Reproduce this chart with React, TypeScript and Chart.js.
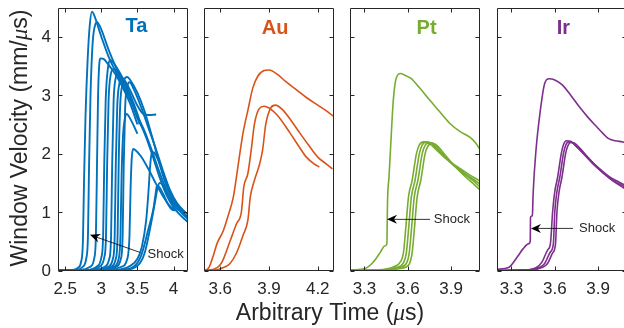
import React, { useEffect, useRef } from "react";
import { Chart, registerables } from "chart.js";
Chart.register(...registerables);

// ---------- data ----------
const yTicks = [0, 1, 2, 3, 4];
const taTicks = [2.5, 3, 3.5, 4];
const auTicks = [3.6, 3.9, 4.2];
const ptTicks = [3.3, 3.6, 3.9];
const irTicks = [3.3, 3.6, 3.9];

const ta01 = [[2.4,0],[2.6,0.01],[2.68,0.05],[2.72,0.15],[2.745,0.5],[2.76,1.5],[2.78,2.6],[2.81,3.6],[2.84,4.2],[2.87,4.43],[2.9,4.37],[3.0,4.0],[3.1,3.66],[3.2,3.4],[3.3,3.16],[3.4,2.92],[3.5,2.64],[3.6,2.38],[3.7,2.05],[3.8,1.7],[3.9,1.38],[4.0,1.16],[4.1,1.04],[4.16,1.0]];
const ta02 = [[2.4,0],[2.65,0.01],[2.74,0.06],[2.79,0.2],[2.815,0.6],[2.83,1.8],[2.85,3.0],[2.88,3.9],[2.92,4.22],[2.94,4.25],[2.98,4.18],[3.1,3.78],[3.2,3.48],[3.3,3.2],[3.4,2.94],[3.5,2.62],[3.6,2.34],[3.7,2.0],[3.8,1.62],[3.9,1.3],[4.0,1.08],[4.1,0.94],[4.2,0.83]];
const ta03 = [[2.4,0],[2.7,0.01],[2.84,0.06],[2.9,0.2],[2.925,0.6],[2.94,1.8],[2.955,3.0],[2.97,3.5],[2.99,3.63],[3.03,3.62],[3.1,3.52],[3.2,3.35],[3.3,3.12],[3.4,2.85],[3.5,2.5]];
const ta04 = [[2.4,0],[2.8,0.01],[2.94,0.07],[3.0,0.22],[3.025,0.6],[3.04,1.8],[3.06,2.9],[3.09,3.45],[3.12,3.6],[3.15,3.58],[3.2,3.5],[3.3,3.28],[3.4,2.98],[3.5,2.6]];
const ta05 = [[2.4,0],[2.85,0.01],[2.98,0.07],[3.04,0.22],[3.065,0.6],[3.08,1.8],[3.1,2.9],[3.13,3.35],[3.17,3.45],[3.22,3.4],[3.3,3.22],[3.4,2.96],[3.5,2.62],[3.53,2.5]];
const ta06 = [[2.4,0],[2.9,0.01],[3.04,0.06],[3.11,0.2],[3.135,0.6],[3.15,1.8],[3.17,2.9],[3.2,3.3],[3.23,3.38],[3.28,3.32],[3.35,3.15],[3.45,2.85],[3.55,2.5]];
const ta07 = [[2.4,0],[2.95,0.01],[3.09,0.06],[3.16,0.2],[3.185,0.6],[3.2,1.8],[3.22,2.8],[3.25,3.2],[3.28,3.3],[3.32,3.26],[3.4,3.08],[3.5,2.82],[3.58,2.68],[3.65,2.66],[3.76,2.67]];
const ta08 = [[2.4,0],[3.0,0.01],[3.13,0.06],[3.2,0.2],[3.225,0.6],[3.24,1.8],[3.26,2.8],[3.3,3.2],[3.36,3.31],[3.4,3.26],[3.5,3.04],[3.6,2.72],[3.7,2.3],[3.8,1.85],[3.9,1.45],[4.0,1.2],[4.1,1.0],[4.2,0.88]];
const ta09 = [[2.4,0],[3.05,0.01],[3.17,0.06],[3.24,0.2],[3.265,0.6],[3.28,1.6],[3.3,2.3],[3.33,2.62],[3.35,2.68],[3.38,2.64],[3.44,2.5],[3.5,2.34]];
const ta10 = [[2.4,0],[3.07,0.01],[3.2,0.06],[3.27,0.2],[3.295,0.6],[3.31,1.8],[3.33,2.8],[3.36,3.15],[3.39,3.22],[3.45,3.1],[3.55,2.8],[3.65,2.45],[3.75,2.1],[3.85,1.72],[3.95,1.38],[4.05,1.15],[4.2,0.95]];
const ta11 = [[2.4,0],[3.1,0.01],[3.27,0.06],[3.36,0.2],[3.39,0.6],[3.405,1.4],[3.42,1.9],[3.44,2.08],[3.47,2.06],[3.55,1.95],[3.65,1.74],[3.75,1.5],[3.85,1.28],[3.95,1.1],[4.02,1.03]];
const ta12 = [[2.4,0],[3.2,0.01],[3.4,0.08],[3.5,0.2],[3.56,0.4],[3.62,0.85],[3.65,1.3],[3.68,1.85],[3.7,2.03],[3.73,2.02],[3.8,1.85],[3.9,1.5],[4.0,1.22],[4.1,1.04],[4.2,0.9]];
const ta13 = [[2.4,0],[3.25,0.01],[3.45,0.07],[3.55,0.25],[3.65,0.7],[3.72,1.05],[3.75,1.3],[3.77,1.45],[3.8,1.43],[3.86,1.3],[3.92,1.14],[3.98,1.04],[4.02,1.03]];
const ta14 = [[2.4,0],[3.3,0.01],[3.5,0.08],[3.6,0.3],[3.68,0.75],[3.74,1.15],[3.78,1.42],[3.81,1.5],[3.85,1.46],[3.92,1.3],[4.0,1.12],[4.06,1.04],[4.1,1.02]];

const au1 = [[3.5,0],[3.53,0.05],[3.56,0.28],[3.58,0.46],[3.62,0.69],[3.65,0.95],[3.68,1.25],[3.71,1.8],[3.74,2.35],[3.77,2.74],[3.8,3.12],[3.83,3.32],[3.87,3.42],[3.9,3.43],[3.95,3.36],[4.0,3.24],[4.07,3.09],[4.13,2.96],[4.2,2.83],[4.26,2.72],[4.3,2.63]];
const au2 = [[3.5,0],[3.56,0.02],[3.6,0.1],[3.62,0.2],[3.66,0.5],[3.7,0.8],[3.73,1.0],[3.745,1.43],[3.77,1.66],[3.79,2.05],[3.81,2.5],[3.84,2.77],[3.87,2.81],[3.9,2.78],[3.95,2.66],[4.03,2.35],[4.08,2.14],[4.13,1.94],[4.18,1.82],[4.21,1.77]];
const au3 = [[3.5,0],[3.58,0.01],[3.62,0.05],[3.66,0.12],[3.7,0.3],[3.74,0.6],[3.77,0.86],[3.785,1.26],[3.81,1.54],[3.84,1.8],[3.86,2.05],[3.88,2.5],[3.91,2.78],[3.94,2.83],[3.98,2.76],[4.04,2.55],[4.09,2.35],[4.15,2.12],[4.2,1.94],[4.25,1.83],[4.29,1.74]];

const pt1 = [[3.2,0.01],[3.31,0.04],[3.36,0.14],[3.41,0.31],[3.44,0.42],[3.455,0.45],[3.46,1.2],[3.47,1.6],[3.48,2.06],[3.5,2.92],[3.52,3.29],[3.55,3.37],[3.58,3.34],[3.62,3.29],[3.68,3.13],[3.75,2.92],[3.82,2.72],[3.89,2.52],[3.96,2.38],[4.03,2.28],[4.07,2.18],[4.1,2.07]];
const pt2 = [[3.2,0],[3.4,0.01],[3.5,0.06],[3.55,0.15],[3.57,0.3],[3.585,0.69],[3.605,1.26],[3.63,1.54],[3.66,2.0],[3.68,2.15],[3.71,2.2],[3.75,2.17],[3.8,2.06],[3.87,1.9],[3.94,1.78],[4.02,1.65],[4.1,1.53]];
const pt3 = [[3.2,0],[3.42,0.01],[3.52,0.05],[3.57,0.13],[3.59,0.3],[3.605,0.69],[3.625,1.26],[3.65,1.54],[3.68,2.0],[3.7,2.15],[3.73,2.2],[3.77,2.16],[3.82,2.03],[3.89,1.86],[3.96,1.72],[4.03,1.6],[4.1,1.48]];
const pt4 = [[3.2,0],[3.44,0.01],[3.54,0.05],[3.59,0.12],[3.61,0.3],[3.625,0.69],[3.645,1.26],[3.67,1.54],[3.7,2.0],[3.72,2.14],[3.75,2.19],[3.79,2.14],[3.84,2.0],[3.91,1.82],[3.98,1.67],[4.05,1.54],[4.1,1.43]];
const pt5 = [[3.2,0],[3.46,0.01],[3.56,0.04],[3.61,0.11],[3.63,0.3],[3.645,0.69],[3.665,1.26],[3.69,1.54],[3.72,2.0],[3.74,2.13],[3.77,2.18],[3.81,2.12],[3.86,1.97],[3.93,1.77],[4.0,1.6],[4.06,1.47],[4.1,1.38]];

const ir1 = [[3.2,0.02],[3.28,0.05],[3.34,0.23],[3.38,0.37],[3.42,0.46],[3.43,0.5],[3.432,0.91],[3.445,0.94],[3.45,1.31],[3.47,2.06],[3.5,2.74],[3.53,3.2],[3.56,3.28],[3.6,3.26],[3.65,3.18],[3.71,3.0],[3.77,2.8],[3.83,2.62],[3.89,2.46],[3.94,2.33],[3.97,2.26],[4.02,2.22],[4.07,2.2],[4.1,2.18]];
const ir2 = [[3.2,0],[3.4,0.01],[3.47,0.05],[3.51,0.14],[3.55,0.35],[3.57,0.46],[3.585,1.0],[3.6,1.35],[3.62,1.6],[3.645,2.0],[3.66,2.15],[3.68,2.22],[3.71,2.21],[3.75,2.12],[3.8,2.0],[3.86,1.85],[3.92,1.72],[3.98,1.6],[4.04,1.52],[4.1,1.44]];
const ir3 = [[3.2,0],[3.42,0.01],[3.49,0.05],[3.53,0.12],[3.57,0.32],[3.59,0.45],[3.6,1.0],[3.615,1.35],[3.635,1.6],[3.66,2.0],[3.675,2.14],[3.695,2.2],[3.72,2.19],[3.76,2.1],[3.81,1.97],[3.87,1.81],[3.93,1.68],[3.99,1.56],[4.05,1.48],[4.1,1.41]];
const ir4 = [[3.2,0],[3.44,0.01],[3.51,0.05],[3.55,0.12],[3.585,0.3],[3.605,0.45],[3.615,1.0],[3.63,1.35],[3.65,1.6],[3.675,2.0],[3.69,2.13],[3.71,2.19],[3.735,2.18],[3.775,2.09],[3.825,1.95],[3.885,1.79],[3.945,1.65],[4.005,1.53],[4.06,1.44],[4.1,1.38]];

// ---------- styling / layout ----------
const CW = 640, CH = 328;
const FONT = '"Liberation Sans", Arial, sans-serif';
const AXIS = "#262626";
const TOP = 7.5, BOTTOM = 270.5;

type Panel = {
  name: string; color: string; lw: number; curves: number[][][]; xMin: number; xMax: number; xTicks: number[];
  left: number; right: number; showY: boolean; label: [number, number];
  shock?: { tip: [number, number]; tail: [number, number]; text: [number, number] };
};

const panels: Panel[] = [
  { name: "Ta", color: "#0072BD", lw: 1.9, curves: [ta01, ta02, ta03, ta04, ta05, ta06, ta07, ta08, ta09, ta10, ta11, ta12, ta13, ta14],
    xMin: 2.4, xMax: 4.2, xTicks: taTicks, left: 58, right: 188, showY: true, label: [3.487, 4.17],
    shock: { tip: [2.843, 0.61], tail: [3.536, 0.31], text: [3.64, 0.27] } },
  { name: "Au", color: "#D95319", lw: 1.6, curves: [au1, au2, au3],
    xMin: 3.5, xMax: 4.3, xTicks: auTicks, left: 204, right: 334, showY: false, label: [3.937, 4.14] },
  { name: "Pt", color: "#77AC30", lw: 1.6, curves: [pt1, pt2, pt3, pt4, pt5],
    xMin: 3.2, xMax: 4.1, xTicks: ptTicks, left: 350, right: 480, showY: false, label: [3.73, 4.14],
    shock: { tip: [3.456, 0.875], tail: [3.754, 0.875], text: [3.78, 0.875] } },
  { name: "Ir", color: "#7E2F8E", lw: 1.6, curves: [ir1, ir2, ir3, ir4],
    xMin: 3.2, xMax: 4.1, xTicks: irTicks, left: 497, right: 627, showY: false, label: [3.66, 4.14],
    shock: { tip: [3.435, 0.72], tail: [3.726, 0.72], text: [3.768, 0.72] } },
];

const fmt = (v: number) => String(Math.round(v * 10) / 10);

function drawMixed(ctx: CanvasRenderingContext2D, parts: [string, boolean][], size: number, x: number, y: number, rotate: boolean) {
  ctx.save();
  ctx.translate(x, y);
  if (rotate) ctx.rotate(-Math.PI / 2);
  const fonts = parts.map(([, it]) => (it ? `italic ${size}px "Liberation Serif", serif` : `${size}px ${FONT}`));
  const widths = parts.map(([t], i) => { ctx.font = fonts[i]; return ctx.measureText(t).width; });
  const total = widths.reduce((a, b) => a + b, 0);
  let cx = -total / 2;
  ctx.textAlign = "left";
  ctx.textBaseline = "alphabetic";
  ctx.fillStyle = AXIS;
  parts.forEach(([t], i) => { ctx.font = fonts[i]; ctx.fillText(t, cx, 0); cx += widths[i]; });
  ctx.restore();
}

function makePlugin(p: Panel, global: boolean) {
  return {
    id: "frame" + p.name,
    afterDatasetsDraw(chart: any) {
      const { ctx, chartArea: a } = chart;
      const xs = chart.scales.x, ys = chart.scales.y;
      const L = Math.round(a.left) + 0.5, R = Math.round(a.right) - 0.5;
      const T = Math.round(a.top) + 0.5, B = Math.round(a.bottom) - 0.5;
      ctx.save();
      ctx.strokeStyle = AXIS;
      ctx.lineWidth = 1;
      ctx.beginPath();
      ctx.rect(L, T, R - L, B - T);
      const tl = 4;
      p.xTicks.forEach((v) => {
        const px = Math.round(xs.getPixelForValue(v)) + 0.5;
        ctx.moveTo(px, B); ctx.lineTo(px, B - tl);
        ctx.moveTo(px, T); ctx.lineTo(px, T + tl);
      });
      yTicks.forEach((v) => {
        const py = Math.round(ys.getPixelForValue(v)) + 0.5;
        ctx.moveTo(L, py); ctx.lineTo(L + tl, py);
        ctx.moveTo(R, py); ctx.lineTo(R - tl, py);
      });
      ctx.stroke();

      // tick labels
      ctx.fillStyle = AXIS;
      ctx.font = `17px ${FONT}`;
      ctx.textAlign = "center";
      ctx.textBaseline = "middle";
      p.xTicks.forEach((v) => ctx.fillText(fmt(v), xs.getPixelForValue(v), a.bottom + 19));
      if (p.showY) {
        ctx.textAlign = "right";
        yTicks.forEach((v) => ctx.fillText(fmt(v), a.left - 7, ys.getPixelForValue(v) + 1));
      }

      ctx.fillStyle = p.color;
      ctx.font = `bold 20px ${FONT}`;
      ctx.textAlign = "center";
      ctx.textBaseline = "middle";
      ctx.fillText(p.name, xs.getPixelForValue(p.label[0]), ys.getPixelForValue(p.label[1]));

      if (p.shock) {
        const tx = xs.getPixelForValue(p.shock.tip[0]), ty = ys.getPixelForValue(p.shock.tip[1]);
        const sx = xs.getPixelForValue(p.shock.tail[0]), sy = ys.getPixelForValue(p.shock.tail[1]);
        const dx = tx - sx, dy = ty - sy, len = Math.hypot(dx, dy);
        const ux = dx / len, uy = dy / len, nx = -uy, ny = ux;
        const hl = 10, hw = 4.5;
        ctx.strokeStyle = "#000";
        ctx.lineWidth = 0.8;
        ctx.beginPath();
        ctx.moveTo(sx, sy);
        ctx.lineTo(tx - ux * 6, ty - uy * 6);
        ctx.stroke();
        ctx.fillStyle = "#000";
        ctx.beginPath();
        ctx.moveTo(tx, ty);
        ctx.lineTo(tx - ux * hl + nx * hw, ty - uy * hl + ny * hw);
        ctx.lineTo(tx - ux * (hl - 3), ty - uy * (hl - 3));
        ctx.lineTo(tx - ux * hl - nx * hw, ty - uy * hl - ny * hw);
        ctx.closePath();
        ctx.fill();
        ctx.fillStyle = AXIS;
        ctx.font = `13px ${FONT}`;
        ctx.textAlign = "left";
        ctx.textBaseline = "middle";
        ctx.fillText("Shock", xs.getPixelForValue(p.shock.text[0]), ys.getPixelForValue(p.shock.text[1]));
      }

      if (global) {
        drawMixed(ctx, [["Arbitrary Time (", false], ["\u03bc", true], ["s)", false]], 23, 330, 320, false);
        drawMixed(ctx, [["Window Velocity (mm/", false], ["\u03bc", true], ["s)", false]], 23, 27, 138, true);
      }
      ctx.restore();
    },
  };
}

function makeChart(canvas: HTMLCanvasElement, p: Panel, global: boolean) {
  return new Chart(canvas, {
    type: "scatter",
    data: {
      datasets: p.curves.map((c) => ({
        data: c.map(([x, y]) => ({ x, y })),
        showLine: true,
        borderColor: p.color,
        backgroundColor: p.color,
        borderWidth: p.lw,
        pointRadius: 0,
        fill: false,
        cubicInterpolationMode: "monotone" as const,
      })),
    },
    options: {
      animation: false,
      responsive: false,
      devicePixelRatio: 1,
      events: [],
      layout: { padding: { left: p.left, right: CW - p.right, top: TOP, bottom: CH - BOTTOM } },
      plugins: { legend: { display: false }, tooltip: { enabled: false } },
      scales: {
        x: {
          type: "linear", min: p.xMin, max: p.xMax,
          grid: { display: false, drawTicks: false },
          border: { display: false },
          afterFit: (s: any) => { s.height = 0; },
          afterBuildTicks: (s: any) => { s.ticks = p.xTicks.map((v) => ({ value: v })); },
          ticks: { display: false },
        },
        y: {
          type: "linear", min: 0, max: 4.5,
          grid: { display: false, drawTicks: false },
          border: { display: false },
          afterFit: (s: any) => { s.width = 0; },
          afterBuildTicks: (s: any) => { s.ticks = yTicks.map((v) => ({ value: v })); },
          ticks: { display: false },
        },
      },
    },
    plugins: [makePlugin(p, global)],
  } as any);
}

export default function App() {
  const canvases = useRef<(HTMLCanvasElement | null)[]>([]);
  useEffect(() => {
    const charts = panels.map((p, i) => makeChart(canvases.current[i]!, p, i === 0));
    return () => charts.forEach((c) => c.destroy());
  }, []);
  return (
    <div style={{ position: "fixed", left: 0, top: 0, width: 624, height: 328, overflow: "hidden", background: "#fff" }}>
      {panels.map((p, i) => (
        <canvas
          key={p.name}
          ref={(el) => { canvases.current[i] = el; }}
          width={CW}
          height={CH}
          style={{ position: "absolute", left: 0, top: 0, width: CW, height: CH }}
        />
      ))}
    </div>
  );
}
